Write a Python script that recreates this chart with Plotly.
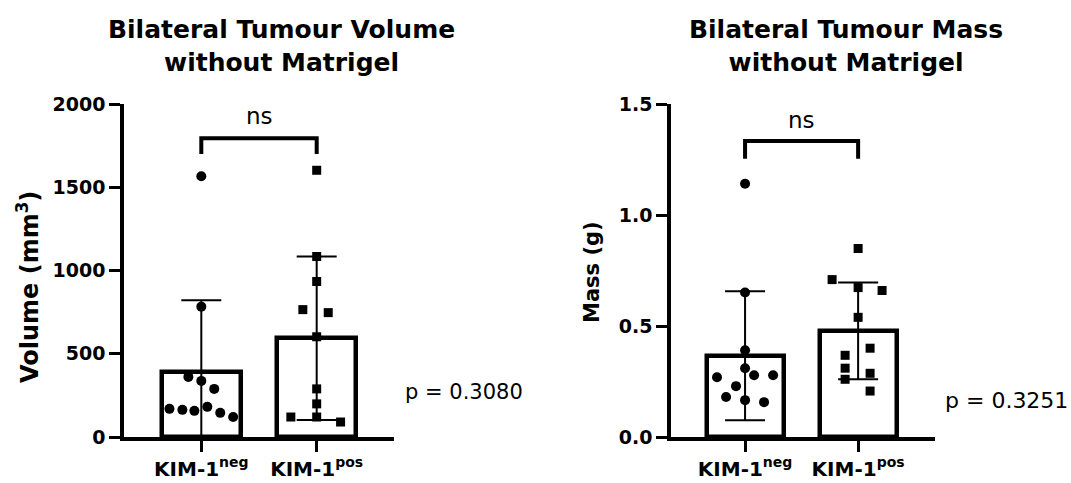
import plotly.graph_objects as go

# ---------------- data ----------------
categories = ["KIM-1<sup>neg</sup>", "KIM-1<sup>pos</sup>"]
cat_pos = [0, 1]

# Volume (mm3)
vol_neg = [1566, 783, 361, 337, 289, 169, 163, 157, 181, 145, 120]
vol_pos = [1602, 1084, 934, 765, 747, 602, 289, 199, 120, 120, 90]
vol_mean = [388, 593]
vol_sd = [434, 491]
vol_ticks = [0, 500, 1000, 1500, 2000]
vol_p = "p = 0.3080"

# Mass (g)
mass_neg = [1.141, 0.651, 0.391, 0.310, 0.269, 0.278, 0.278, 0.229, 0.180, 0.166, 0.157]
mass_pos = [0.849, 0.709, 0.673, 0.660, 0.539, 0.400, 0.368, 0.310, 0.287, 0.260, 0.207]
mass_mean = [0.366, 0.478]
mass_sd = [0.290, 0.218]
mass_ticks = [0.0, 0.5, 1.0, 1.5]
mass_p = "p = 0.3251"

# significance bracket levels (data units)
vol_bracket = [1699, 1795]
mass_bracket = [1.253, 1.333]
vol_ns_y = 1927
mass_ns_y = 1.428

# horizontal scatter (jitter) offsets, in category units
vol_neg_jit = [0, 0, -0.112, 0, 0.112, -0.276, -0.164, -0.06, 0.052, 0.164, 0.276]
vol_pos_jit = [0, 0, 0, -0.12, 0.10, 0, 0, 0, 0, -0.224, 0.207]
mass_neg_jit = [0, 0, 0, 0, -0.248, 0.08, 0.248, -0.08, -0.168, 0, 0.168]
mass_pos_jit = [0, -0.23, 0, 0.212, 0, 0.106, -0.115, -0.115, 0.106, -0.115, 0.106]

FONT = "DejaVu Sans"
W, H = 1071, 483

fig = go.Figure()


def add_panel(xa, ya, mean, sd, neg, pos, neg_j, pos_j, bracket, msize):
    fig.add_trace(go.Bar(
        x=cat_pos, y=mean, width=0.68, xaxis=xa, yaxis=ya,
        marker=dict(color="white", line=dict(color="black", width=4.5)),
        error_y=dict(type="data", array=sd, visible=True, color="black",
                     thickness=2, width=20),
        showlegend=False, hoverinfo="skip"))
    fig.add_trace(go.Scatter(
        x=[cat_pos[0] + j for j in neg_j], y=neg, mode="markers",
        xaxis=xa, yaxis=ya,
        marker=dict(symbol="circle", size=msize, color="black"),
        showlegend=False, cliponaxis=False))
    fig.add_trace(go.Scatter(
        x=[cat_pos[1] + j for j in pos_j], y=pos, mode="markers",
        xaxis=xa, yaxis=ya,
        marker=dict(symbol="square", size=msize - 1, color="black"),
        showlegend=False, cliponaxis=False))
    fig.add_trace(go.Scatter(
        x=[cat_pos[0], cat_pos[0], cat_pos[1], cat_pos[1]],
        y=[bracket[0], bracket[1], bracket[1], bracket[0]],
        mode="lines", xaxis=xa, yaxis=ya,
        line=dict(color="black", width=4),
        showlegend=False, cliponaxis=False, hoverinfo="skip"))


add_panel("x", "y", vol_mean, vol_sd, vol_neg, vol_pos,
          vol_neg_jit, vol_pos_jit, vol_bracket, 10)
add_panel("x2", "y2", mass_mean, mass_sd, mass_neg, mass_pos,
          mass_neg_jit, mass_pos_jit, mass_bracket, 10)

ydom = [46 / H, 379 / H]
xcommon = dict(showline=True, linewidth=3.5, linecolor="black", mirror=False,
               showgrid=False, zeroline=False, ticks="outside", ticklen=11,
               tickwidth=2.5, tickcolor="black", tickvals=cat_pos,
               ticktext=categories, automargin=False,
               tickfont=dict(family=FONT, size=20, color="black", weight="bold"))
ycommon = dict(showline=True, linewidth=3.5, linecolor="black",
               showgrid=False, zeroline=False, ticks="outside", ticklen=11,
               tickwidth=2.5, tickcolor="black", automargin=False,
               tickfont=dict(family=FONT, size=19, color="black", weight="bold"))

fig.update_layout(
    width=W, height=H, margin=dict(l=0, r=0, t=0, b=0, autoexpand=False),
    paper_bgcolor="white", plot_bgcolor="white", bargap=0,
    xaxis=dict(domain=[124 / W, 394 / W], range=[-0.67, 1.67], anchor="y", **xcommon),
    yaxis=dict(domain=ydom, range=[0, 2000], tickvals=vol_ticks, anchor="x", **ycommon),
    xaxis2=dict(domain=[671 / W, 935 / W], range=[-0.655, 1.68], anchor="y2", **xcommon),
    yaxis2=dict(domain=ydom, range=[0, 1.5], tickvals=mass_ticks, tickformat=".1f",
                anchor="x2", **ycommon),
)

ann = []
# titles
ann.append(dict(text="<b>Bilateral Tumour Volume<br>without Matrigel</b>",
                x=281 / W, y=1 - 46 / H, xref="paper", yref="paper",
                xanchor="center", yanchor="middle", showarrow=False,
                font=dict(family=FONT, size=25, color="black")))
ann.append(dict(text="<b>Bilateral Tumour Mass<br>without Matrigel</b>",
                x=846 / W, y=1 - 46 / H, xref="paper", yref="paper",
                xanchor="center", yanchor="middle", showarrow=False,
                font=dict(family=FONT, size=25, color="black")))
# axis titles
ann.append(dict(text="<b>Volume (mm<sup>3</sup>)</b>", textangle=-90,
                x=28 / W, y=1 - 287 / H, xref="paper", yref="paper",
                xanchor="center", yanchor="middle", showarrow=False,
                font=dict(family=FONT, size=24, color="black")))
ann.append(dict(text="<b>Mass (g)</b>", textangle=-90,
                x=592 / W, y=1 - 272 / H, xref="paper", yref="paper",
                xanchor="center", yanchor="middle", showarrow=False,
                font=dict(family=FONT, size=21, color="black")))
# p values
ann.append(dict(text=vol_p, x=403 / W, y=1 - 392 / H, xref="paper", yref="paper",
                xanchor="left", yanchor="middle", showarrow=False,
                font=dict(family=FONT, size=21, color="black")))
ann.append(dict(text=mass_p, x=943 / W, y=1 - 400 / H, xref="paper", yref="paper",
                xanchor="left", yanchor="middle", showarrow=False,
                font=dict(family=FONT, size=22, color="black")))
# ns labels
ann.append(dict(text="ns", x=0.5, y=vol_ns_y, xref="x", yref="y",
                xanchor="center", yanchor="middle", showarrow=False,
                font=dict(family=FONT, size=23, color="black")))
ann.append(dict(text="ns", x=0.5, y=mass_ns_y, xref="x2", yref="y2",
                xanchor="center", yanchor="middle", showarrow=False,
                font=dict(family=FONT, size=23, color="black")))
fig.update_layout(annotations=ann)

fig.write_html("out.html")
